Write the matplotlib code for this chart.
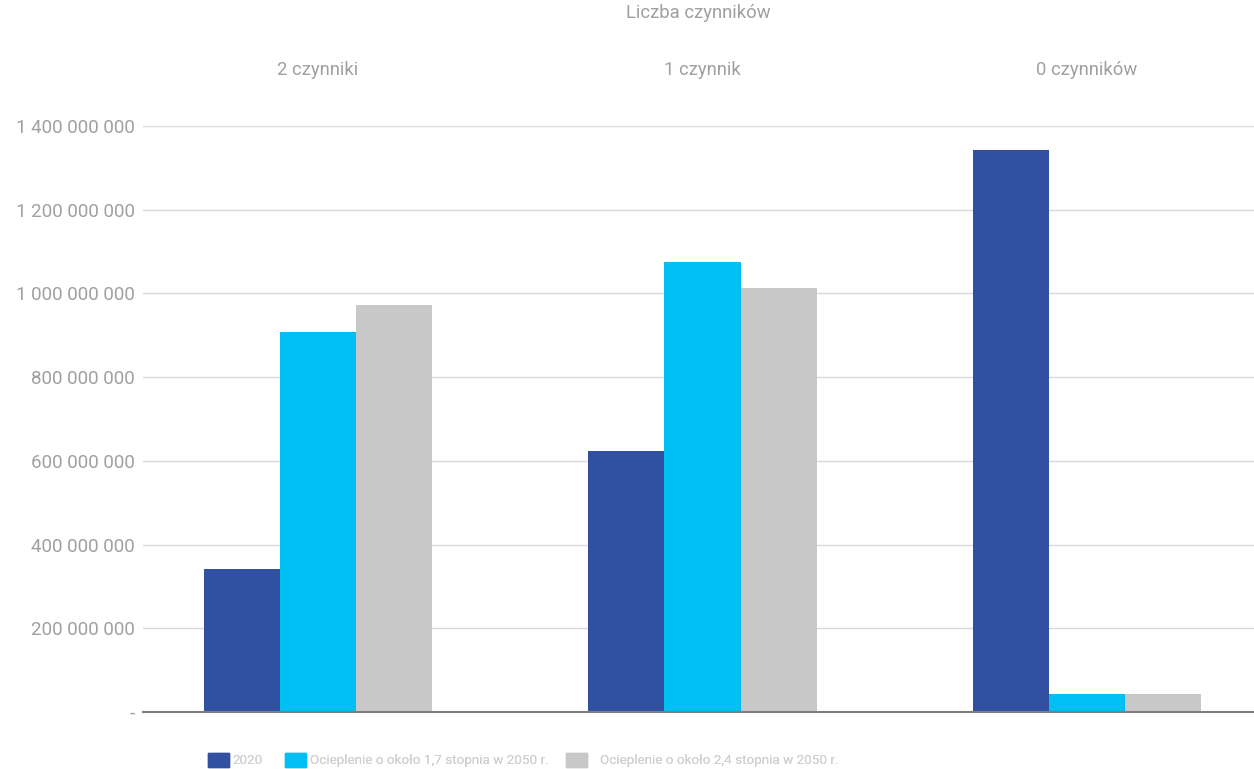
import matplotlib.pyplot as plt
import numpy as np
from matplotlib.ticker import FuncFormatter
from matplotlib.patches import Patch

# Data
categories = ['2 czynniki', '1 czynnik', '0 czynników']
series_names = ['2020', 'Ocieplenie o około 1,7 stopnia w 2050 r.',
                'Ocieplenie o około 2,4 stopnia w 2050 r.']
values_2020 = [342e6, 623e6, 1343e6]
values_17 = [908e6, 1075e6, 44e6]
values_24 = [972e6, 1013e6, 44e6]
colors = ['#3150a2', '#00c0f3', '#c8c8c8']
yticks = [0, 200e6, 400e6, 600e6, 800e6, 1000e6, 1200e6, 1400e6]

plt.rcParams['font.family'] = ['Roboto', 'DejaVu Sans']

fig = plt.figure(figsize=(12.54, 7.69), dpi=100)
ax = fig.add_axes([143 / 1254, 1 - 712 / 769, (1254 - 143) / 1254, (712 - 126) / 769])

x = np.array([0, 1, 2]) * 1.0
w = 0.198
for i, (vals, c, name) in enumerate(zip([values_2020, values_17, values_24], colors, series_names)):
    ax.bar(x + (i - 1) * w, vals, width=w, color=c, label=name, zorder=3)

ax.set_xlim(-0.455, 2.434)
ax.set_ylim(0, 1400e6)
ax.set_yticks(yticks)


def fmt(v, pos):
    if v == 0:
        return '-'
    return f'{int(v):,}'.replace(',', ' ')


ax.yaxis.set_major_formatter(FuncFormatter(fmt))
ax.tick_params(axis='y', length=0, pad=6, labelsize=13.5, labelcolor='#a0a0a0')
ax.grid(axis='y', color='#d9d9d9', linewidth=1, zorder=0)

for s in ['left', 'right', 'top']:
    ax.spines[s].set_visible(False)
ax.spines['bottom'].set_color('#7f7f7f')
ax.spines['bottom'].set_linewidth(1.5)
ax.spines['bottom'].set_zorder(4)

# Category labels on top
ax.set_xticks([])
top = ax.secondary_xaxis('top')
top.set_xticks(x)
top.set_xticklabels(categories)
top.tick_params(length=0, pad=34, labelsize=13.3, labelcolor='#a0a0a0')
for s in top.spines.values():
    s.set_visible(False)
top.set_xlabel('Liczba czynników', fontsize=13.3, color='#a0a0a0', labelpad=31)

# Legend entries placed individually (uneven spacing as in the reference)
leg_x = [208 / 1254, 285 / 1254, 566 / 1254]
pads = [0.25, 0.3, 0.95]
for i, (c, name) in enumerate(zip(colors, series_names)):
    leg = fig.legend(handles=[Patch(color=c, label=name)], loc='center left',
                     bbox_to_anchor=(leg_x[i], 1 - 760 / 769), frameon=False,
                     fontsize=9.7, handlelength=1.55, handleheight=1.3,
                     handletextpad=pads[i], borderpad=0, borderaxespad=0)
    for t in leg.get_texts():
        t.set_color('#d0d0d0')
    fig.add_artist(leg)

fig.savefig('out.png', dpi=100)
